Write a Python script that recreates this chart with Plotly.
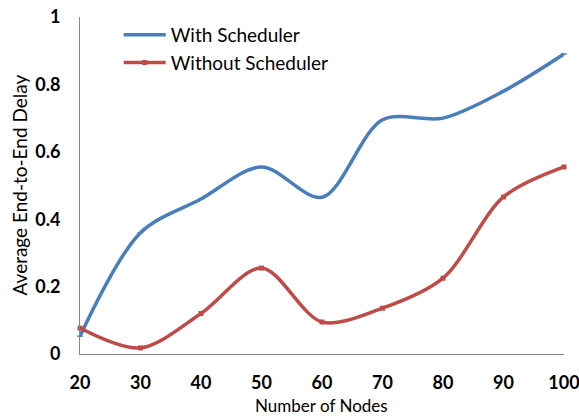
import plotly.graph_objects as go

nodes = [20, 30, 40, 50, 60, 70, 80, 90, 100]
with_scheduler = [0.053, 0.36, 0.46, 0.555, 0.465, 0.695, 0.70, 0.78, 0.89]
without_scheduler = [0.077, 0.018, 0.12, 0.255, 0.095, 0.136, 0.225, 0.466, 0.555]
y_ticks = [0, 0.2, 0.4, 0.6, 0.8, 1]
y_tick_text = ["0", "0.2", "0.4", "0.6", "0.8", "1"]

FONT = "Lato, 'Open Sans', sans-serif"

fig = go.Figure()
fig.add_trace(go.Scatter(
    x=nodes, y=with_scheduler, name="With Scheduler",
    mode="lines+markers", line=dict(color="#4a7ebb", width=3.5, shape="spline", smoothing=0.9),
    marker=dict(symbol="line-ew", size=4, color="#4a7ebb", line=dict(color="#4a7ebb", width=1.5)),
    cliponaxis=False,
))
fig.add_trace(go.Scatter(
    x=nodes, y=without_scheduler, name="Without Scheduler",
    mode="lines+markers", line=dict(color="#be4b48", width=3.5, shape="spline", smoothing=0.9),
    marker=dict(symbol="square", size=5, color="#be4b48"),
    cliponaxis=False,
))

fig.update_layout(
    width=579, height=417,
    margin=dict(l=80, r=15, t=17, b=63, autoexpand=False),
    paper_bgcolor="white", plot_bgcolor="white",
    font=dict(family=FONT, color="#000000"),
    showlegend=True,
    legend=dict(
        x=0.08, y=1.003, xanchor="left", yanchor="top",
        bgcolor="rgba(0,0,0,0)", font=dict(size=19, family=FONT),
        itemwidth=42, tracegroupgap=0,
    ),
    xaxis=dict(
        range=[20, 100], tickvals=nodes, showgrid=False, zeroline=False,
        showline=True, linecolor="#878787", linewidth=1, ticks="",
        tickfont=dict(size=18, family=FONT, weight="bold"),
        ticklabelstandoff=12, ticklabeloverflow="allow", automargin=False,
    ),
    yaxis=dict(
        range=[0, 1], tickvals=y_ticks, ticktext=y_tick_text, showgrid=False, zeroline=False,
        showline=True, linecolor="#878787", linewidth=1, ticks="",
        tickfont=dict(size=18, family=FONT, weight="bold"),
        ticklabelstandoff=15, ticklabeloverflow="allow", automargin=False,
    ),
    annotations=[
        dict(text="Number of Nodes", xref="paper", yref="paper", x=0.498, y=-0.187,
             xanchor="center", yanchor="bottom", showarrow=False, borderpad=0,
             font=dict(size=17, family=FONT)),
        dict(text="Average End-to-End Delay", xref="paper", yref="paper", x=-0.126, y=0.5,
             xanchor="center", yanchor="middle", showarrow=False, textangle=-90,
             font=dict(size=19, family=FONT)),
    ],
)

fig.write_html("out.html")
